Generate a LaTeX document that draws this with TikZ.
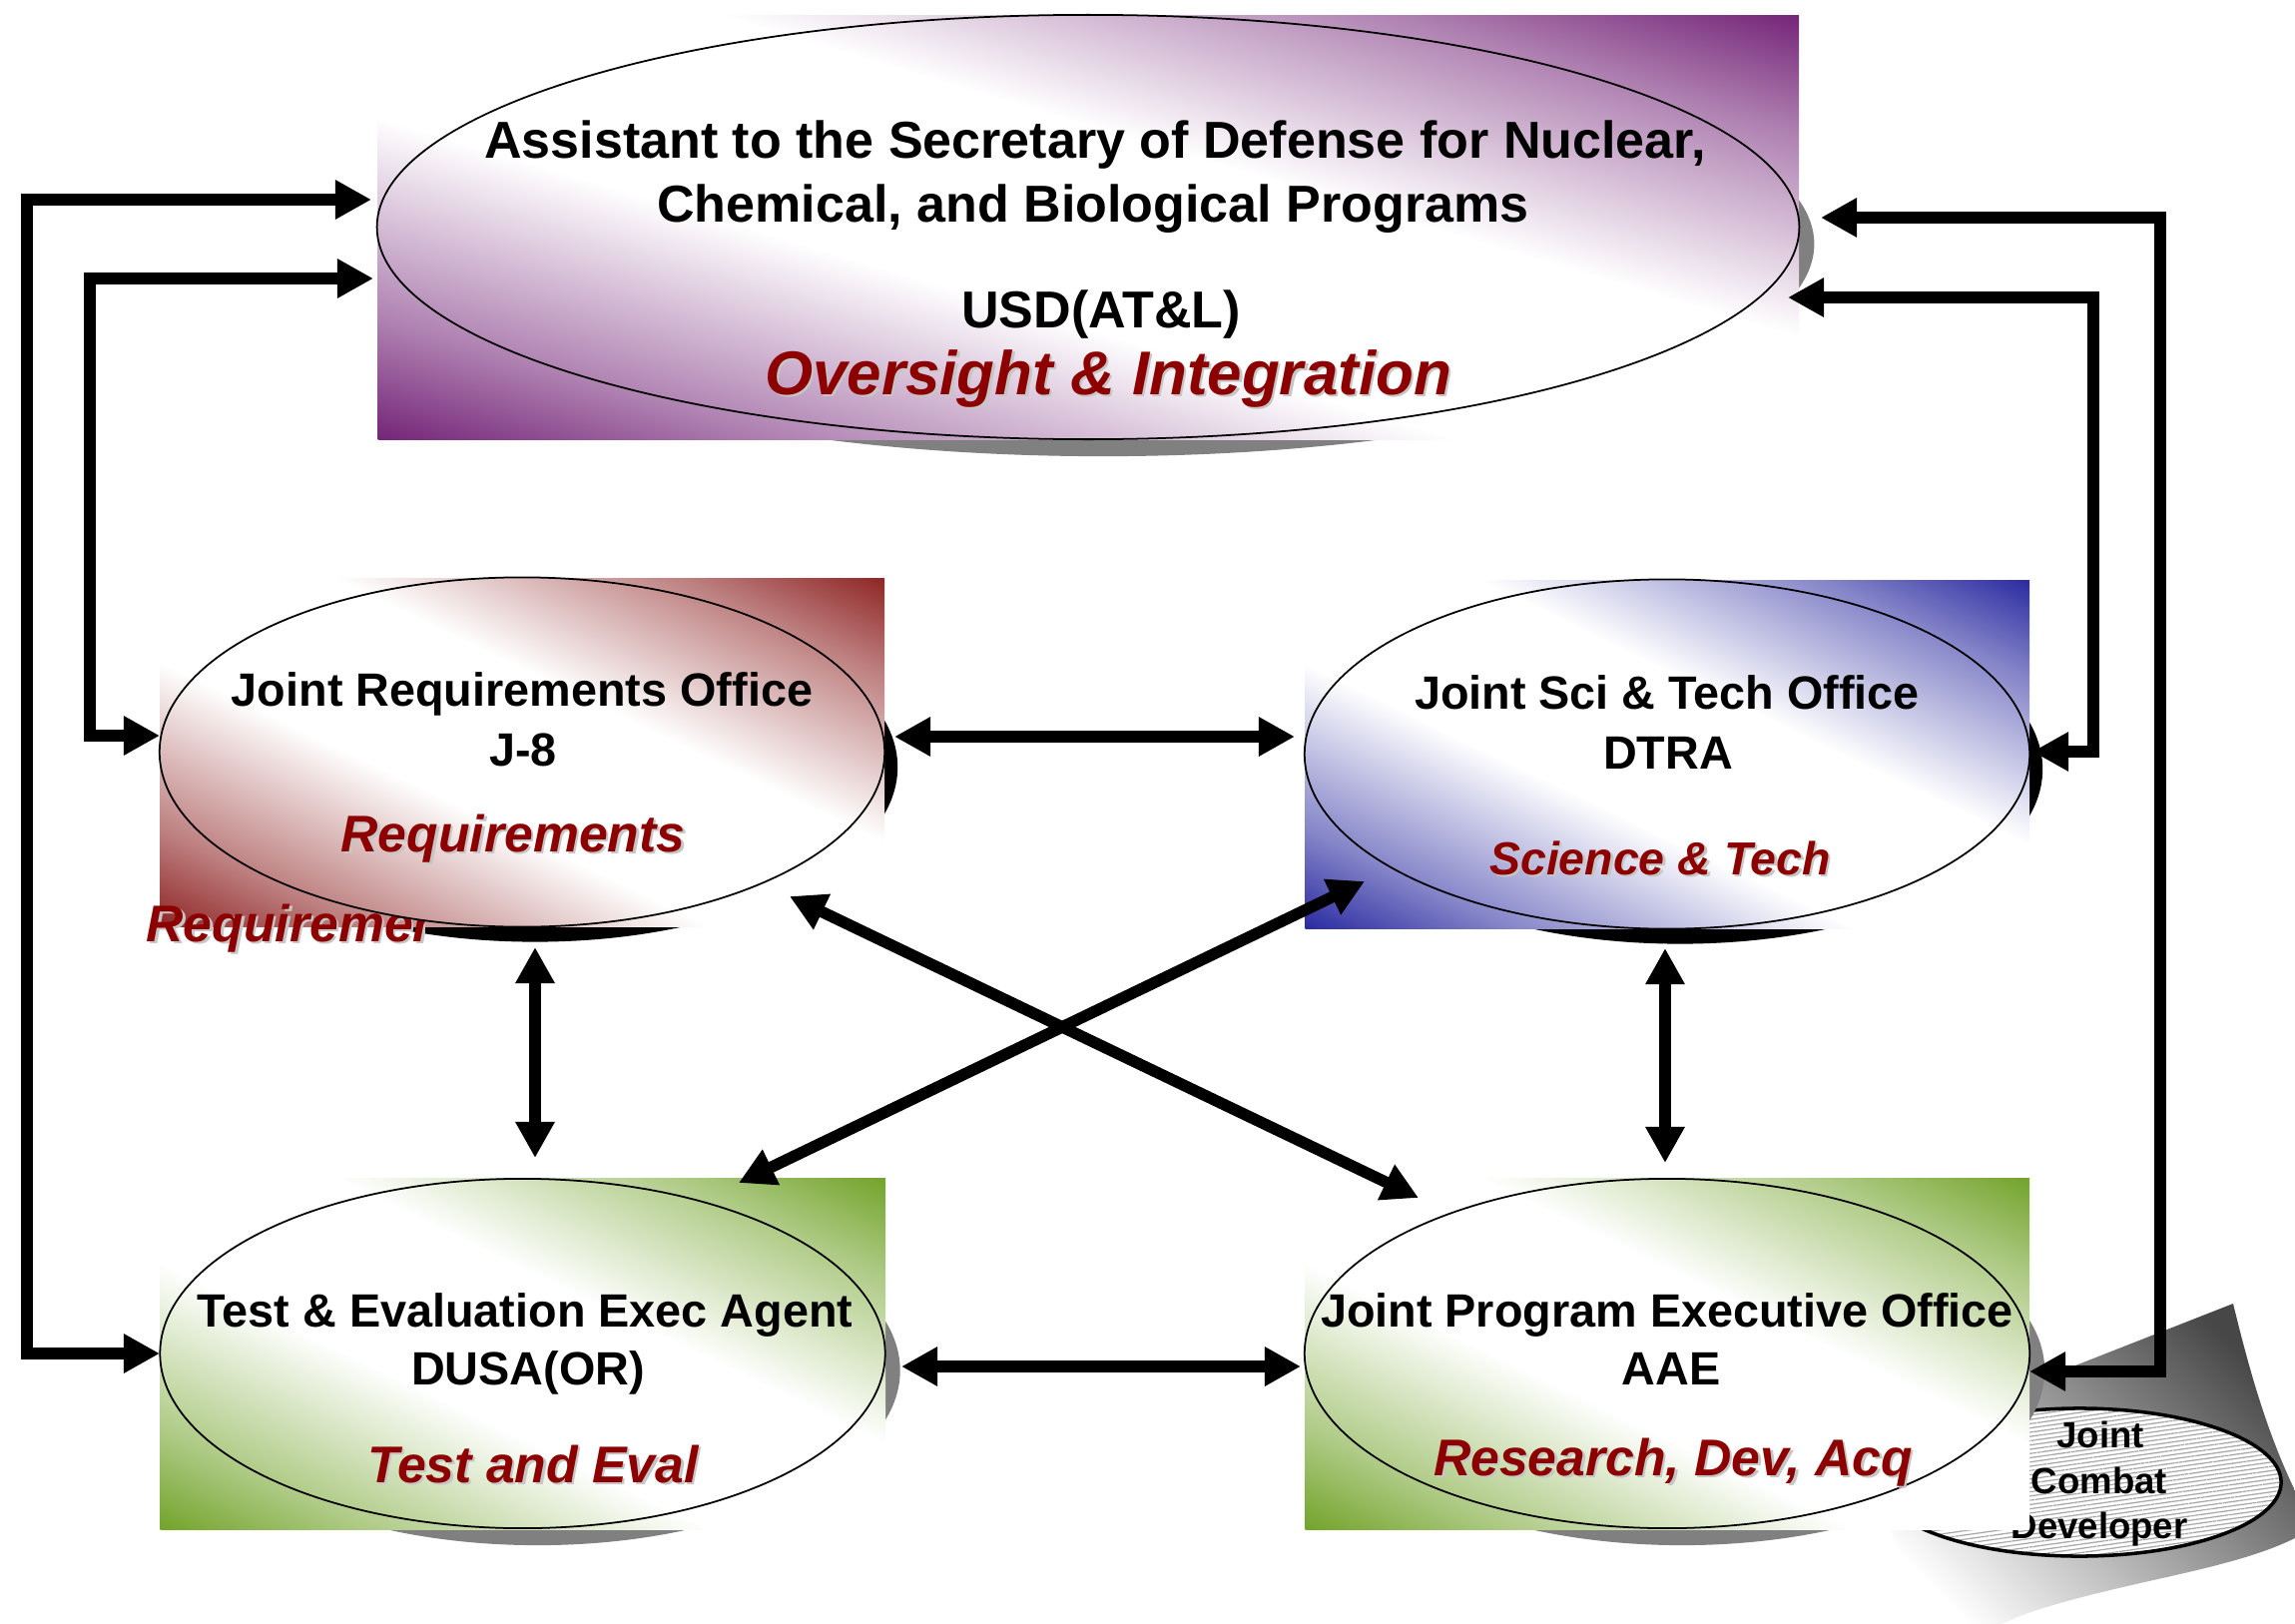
\documentclass[tikz,border=0pt]{standalone}
\usepackage{fontspec}
\setmainfont{Liberation Sans}
\usetikzlibrary{arrows.meta,shapes.geometric,patterns.meta}

\definecolor{cpurple}{RGB}{108,24,112}
\definecolor{cred}{RGB}{136,24,24}
\definecolor{cblue}{RGB}{30,30,155}
\definecolor{cgreen}{RGB}{106,158,30}
\definecolor{labelred}{RGB}{140,0,0}
\definecolor{shadowgray}{RGB}{128,128,128}

\pgfdeclareverticalshading{shpurple}{100bp}{color(0bp)=(cpurple); color(24bp)=(cpurple); color(32bp)=(cpurple!55!white); color(44bp)=(white); color(56bp)=(white); color(68bp)=(cpurple!55!white); color(76bp)=(cpurple); color(100bp)=(cpurple)}
\pgfdeclareverticalshading{shred}{100bp}{color(0bp)=(cred); color(24bp)=(cred); color(32bp)=(cred!55!white); color(44bp)=(white); color(56bp)=(white); color(68bp)=(cred!55!white); color(76bp)=(cred); color(100bp)=(cred)}
\pgfdeclareverticalshading{shblue}{100bp}{color(0bp)=(cblue); color(24bp)=(cblue); color(32bp)=(cblue!55!white); color(44bp)=(white); color(56bp)=(white); color(68bp)=(cblue!55!white); color(76bp)=(cblue); color(100bp)=(cblue)}
\pgfdeclareverticalshading{shgreen}{100bp}{color(0bp)=(cgreen); color(24bp)=(cgreen); color(32bp)=(cgreen!55!white); color(44bp)=(white); color(56bp)=(white); color(68bp)=(cgreen!55!white); color(76bp)=(cgreen); color(100bp)=(cgreen)}

% diagonal shading of a box: #1 shading, (#2,#3)-(#4,#5) box corners
\newcommand\boxshade[5]{%
  \pgfmathsetmacro\bxA{(#4-#2)/200}%
  \pgfmathsetmacro\bxB{(#5-#3)/200}%
  \pgfmathsetmacro\bxX{(#2+#4)/2}%
  \pgfmathsetmacro\bxY{(#3+#5)/2}%
  \begin{scope}
    \clip (#2,#3) rectangle (#4,#5);
    \begin{scope}[transform canvas={cm={\bxA,-\bxB,\bxA,\bxB,(\bxX,\bxY)}}]
      \shade[shading=#1] (-1cm,-1cm) rectangle (1cm,1cm);
    \end{scope}
  \end{scope}}
% same shading, restricted to the inscribed oval
\newcommand\ovalshade[5]{%
  \pgfmathsetmacro\bxA{(#4-#2)/200}%
  \pgfmathsetmacro\bxB{(#5-#3)/200}%
  \pgfmathsetmacro\bxX{(#2+#4)/2}%
  \pgfmathsetmacro\bxY{(#3+#5)/2}%
  \begin{scope}
    \clip (\bxX,\bxY) ellipse [x radius=\bxA cm, y radius=\bxB cm];
    \begin{scope}[transform canvas={cm={\bxA,-\bxB,\bxA,\bxB,(\bxX,\bxY)}}]
      \shade[shading=#1] (-1cm,-1cm) rectangle (1cm,1cm);
    \end{scope}
  \end{scope}}

\newcommand\redlab[5]{%
  \node[font=\fontsize{#4}{#4}\selectfont\bfseries\itshape, text=gray!45, anchor=base, inner sep=0pt, xshift=0.25mm, yshift=-0.25mm] (#1s) at (#2,#3) {#5};
  \node[font=\fontsize{#4}{#4}\selectfont\bfseries\itshape, text=labelred, anchor=base, inner sep=0pt] (#1) at (#2,#3) {#5};
}

\begin{document}
\begin{tikzpicture}[x=0.01cm,y=-0.01cm,
  blk/.style={font=\fontsize{13.3}{16}\selectfont\bfseries, anchor=base, inner sep=0pt},
  topblk/.style={font=\fontsize{14.8}{17}\selectfont\bfseries, anchor=base, inner sep=0pt},
  jcdtxt/.style={font=\fontsize{10.4}{12}\selectfont\bfseries, anchor=base, inner sep=0pt},
  oval/.style={ellipse, inner sep=0pt, draw=black, line width=0.5pt},
  bigoval/.style={minimum width=14.24cm, minimum height=4.25cm},
  midoval/.style={minimum width=7.26cm, minimum height=3.50cm},
  shad/.style={ellipse, inner sep=0pt},
  conn/.style={line width=1.15mm, arrows={Triangle[length=3.6mm,width=3.7mm]-Triangle[length=3.6mm,width=3.7mm]}}
]
\useasboundingbox (0,0) rectangle (2299,1627);

% ---------- Joint Combat Developer (behind) ----------
\shade[top color=black!72, middle color=gray!50, bottom color=white, shading angle=-45]
  (1870,1450) -- (2237,1306) .. controls (2255,1380) and (2275,1450) .. (2310,1515)
  -- (2310,1535) .. controls (2250,1570) and (2150,1580) .. (2050,1610)
  .. controls (2010,1622) and (1990,1635) .. (1980,1640) -- (1915,1640)
  .. controls (1905,1580) and (1895,1520) .. (1870,1450) -- cycle;
\node[ellipse, draw, line width=1pt, minimum width=4.04cm, minimum height=1.48cm, inner sep=0pt,
  preaction={fill=white}, pattern={Lines[angle=8,distance=1.2pt,line width=0.35pt]}, pattern color=gray!70] (jcd) at (2083,1485) {};
\node[jcdtxt] (jcd1) at (2104,1450) {Joint};
\node[jcdtxt] (jcd2) at (2103,1496) {Combat};
\node[jcdtxt] (jcd3) at (2103,1541) {Developer};

% ---------- shadows ----------
\node[shad, fill=shadowgray, bigoval] (topsh) at (1105,244.5) {};
\node[shad, fill=black, midoval] (jrosh) at (536,768.5) {};
\node[shad, fill=black, midoval] (jstosh) at (1683,770.5) {};
\node[shad, fill=shadowgray, midoval] (tesh) at (538.5,1373) {};
\node[shad, fill=shadowgray, midoval] (jpeosh) at (1685,1373) {};

% ---------- background rectangles ----------
\boxshade{shpurple}{378}{15}{1802}{440}
\boxshade{shred}{160}{579}{886}{928}
\boxshade{shblue}{1307}{581}{2033}{930}
\boxshade{shgreen}{160}{1180}{887}{1532}
\boxshade{shgreen}{1307}{1180}{2033}{1532}

% ghost label peeking out under the requirements box
\begin{scope}
  \clip (100,880) rectangle (425,1000);
  \redlab{ghost}{319}{943}{14.7}{Requirements}
\end{scope}
\ovalshade{shred}{160}{579}{886}{928}

% ---------- ovals ----------
\node[oval, bigoval] (usd) at (1090,227.5) {};
\node[oval, midoval] (jro) at (523,753.5) {};
\node[oval, midoval] (jsto) at (1670,755.5) {};
\node[oval, midoval] (te) at (523.5,1356) {};
\node[oval, midoval] (jpeo) at (1670,1356) {};

% ---------- texts ----------
\node[topblk] (usd1) at (1097,158) {Assistant to the Secretary of Defense for Nuclear,};
\node[topblk] (usd2) at (1095,222) {Chemical, and Biological Programs};
\node[topblk] (usd3) at (1103,328) {USD(AT\&L)};
\redlab{usd4}{1110}{395}{17.6}{Oversight \& Integration}

\node[blk] (jro1) at (523,707) {Joint Requirements Office};
\node[blk] (jro2) at (524,767) {J-8};
\redlab{jro3}{514}{853}{14.7}{Requirements}

\node[blk] (jsto1) at (1670,710) {Joint Sci \& Tech Office};
\node[blk] (jsto2) at (1671,770) {DTRA};
\redlab{jsto3}{1663}{876}{13.2}{Science \& Tech}

\node[blk] (te1) at (526,1329) {Test \& Evaluation Exec Agent};
\node[blk] (te2) at (529,1387) {DUSA(OR)};
\redlab{te3}{534}{1485}{14.7}{Test and Eval}

\node[blk] (jpeo1) at (1670,1329) {Joint Program Executive Office};
\node[blk] (jpeo2) at (1674,1387) {AAE};
\redlab{jpeo3}{1676}{1478}{14.7}{Research, Dev, Acq}

% ---------- connectors ----------
\coordinate (a1s) at (372,200);  \coordinate (a1b) at (27,200);   \coordinate (a1e) at (160,1356);
\coordinate (a2s) at (374,279);  \coordinate (a2b) at (90,279);   \coordinate (a2e) at (160,737);
\coordinate (a3s) at (1824,218); \coordinate (a3b) at (2164,218); \coordinate (a3e) at (2033,1374);
\coordinate (a4s) at (1791,298); \coordinate (a4b) at (2097,298); \coordinate (a4e) at (2036,753);
\coordinate (a5s) at (896,738);  \coordinate (a5e) at (1297,738);
\coordinate (a6s) at (903,1369); \coordinate (a6e) at (1303,1369);
\coordinate (a7s) at (536,949);  \coordinate (a7e) at (536,1160);
\coordinate (a8s) at (1668,950); \coordinate (a8e) at (1668,1165);
\coordinate (a9s) at (791,898);  \coordinate (a9e) at (1421,1200);
\coordinate (a10s) at (1367,883); \coordinate (a10e) at (740,1185);

\draw[conn] (a1s) -- (a1b) |- (a1e);
\draw[conn] (a2s) -- (a2b) |- (a2e);
\draw[conn] (a3s) -- (a3b) |- (a3e);
\draw[conn] (a4s) -- (a4b) |- (a4e);
\draw[conn] (a5s) -- (a5e);
\draw[conn] (a6s) -- (a6e);
\draw[conn] (a7s) -- (a7e);
\draw[conn] (a8s) -- (a8e);
\draw[conn] (a9s) -- (a9e);
\draw[conn] (a10s) -- (a10e);
\end{tikzpicture}
\end{document}
